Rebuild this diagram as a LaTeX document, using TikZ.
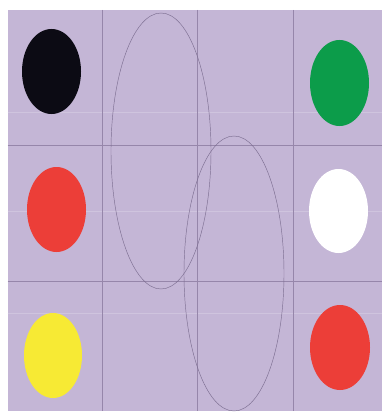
\documentclass[tikz,border=0pt]{standalone}
\definecolor{lav}{RGB}{196,182,214}
\definecolor{gridc}{RGB}{150,134,170}
\definecolor{lightc}{RGB}{207,196,222}
\definecolor{outc}{RGB}{125,110,145}
\definecolor{blk}{RGB}{12,11,20}
\definecolor{grn}{RGB}{12,156,74}
\definecolor{rd}{RGB}{236,62,56}
\definecolor{yl}{RGB}{247,234,52}
\begin{document}
\begin{tikzpicture}[x=1pt,y=-1pt,
  gridline/.style={draw=gridc,line width=0.5pt},
  faintline/.style={draw=lightc,line width=0.5pt},
  outline/.style={draw=outc,line width=0.45pt}]
\useasboundingbox (0,0) rectangle (382,412);
\fill[lav] (7.5,10) rectangle (382,411);
% faint light lines
\foreach \yy in {112,211,313} \draw[faintline] (7.5,\yy) -- (382,\yy);
% grid
\foreach \xx in {102,197,293} \draw[gridline] (\xx,10) -- (\xx,411);
\foreach \yy in {145,281} \draw[gridline] (7.5,\yy) -- (382,\yy);
% filled ellipses
\fill[blk] (51.5,71.5) ellipse [x radius=29.5, y radius=42.5];
\fill[grn] (339.5,83) ellipse [x radius=29.5, y radius=43];
\fill[rd] (56.5,209.5) ellipse [x radius=29.5, y radius=42.5];
\fill[white] (338.5,211) ellipse [x radius=29.5, y radius=42];
\fill[yl] (53,355.5) ellipse [x radius=29, y radius=42.5];
\fill[rd] (340,347.5) ellipse [x radius=30, y radius=42.5];
% outline ellipses
\draw[outline] (161,151) ellipse [x radius=50, y radius=138];
\draw[outline] (234,273.5) ellipse [x radius=50, y radius=137.5];
\end{tikzpicture}
\end{document}
